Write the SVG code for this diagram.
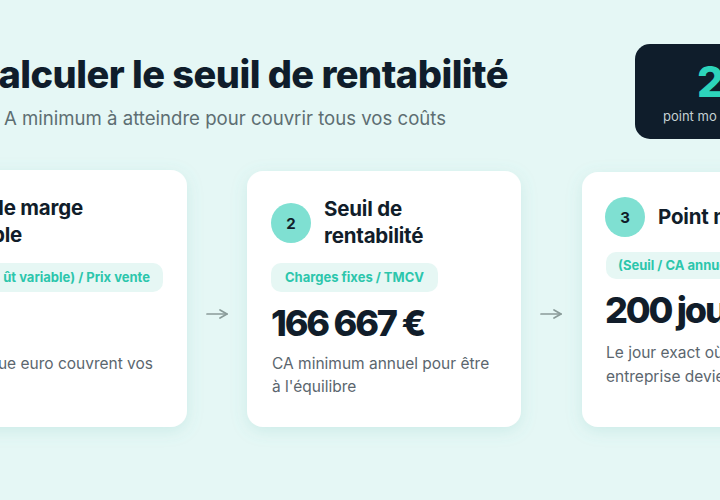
<svg xmlns="http://www.w3.org/2000/svg" width="720" height="500" viewBox="0 0 720 500">
  <defs>
    <filter id="sh" x="-20%" y="-20%" width="140%" height="140%">
      <feDropShadow dx="0" dy="4" stdDeviation="8" flood-color="#5fb8ad" flood-opacity="0.18"/>
    </filter>
    <marker id="arr" viewBox="0 0 10 10" refX="9" refY="5" markerWidth="10" markerHeight="10" markerUnits="userSpaceOnUse" orient="auto">
      <path d="M2,1 L9,5 L2,9" fill="none" stroke="#8a9b99" stroke-width="1.7" stroke-linecap="round" stroke-linejoin="round"/>
    </marker>
  </defs>
  <style>
    text { font-family: Inter, "Noto Sans", "Liberation Sans", sans-serif; }
    .title { font-size: 38px; font-weight: 800; fill: #0f1d2b; letter-spacing: -0.53px; }
    .sub { font-size: 18.6px; fill: #5d6e72; }
    .card { fill: #ffffff; filter: url(#sh); }
    .h { font-size: 20.5px; font-weight: 700; fill: #111d2a; letter-spacing: -0.2px; }
    .pill { fill: #e6f7f4; }
    .pt { font-size: 13px; font-weight: 700; fill: #2cc6ac; }
    .big { font-size: 36px; font-weight: 800; fill: #111d2a; letter-spacing: -2.2px; }
    .d { font-size: 15.5px; fill: #5b666e; }
    .num { fill: #7fe0d2; }
    .nt { font-size: 15px; font-weight: 700; fill: #111d2a; text-anchor: middle; }
    .conn { stroke: #8a9b99; stroke-width: 1.7; fill: none; stroke-linecap: round; }
  </style>
  <rect width="720" height="500" fill="#e5f7f5"/>

  <g id="header">
    <text class="title" x="508" y="88" text-anchor="end">alculer le seuil de rentabilité</text>
    <text class="sub" x="446" y="125" text-anchor="end">A minimum à atteindre pour couvrir tous vos coûts</text>
  </g>

  <g id="stat">
    <rect x="635" y="44" width="180" height="95" rx="15" fill="#0f1d2b"/>
    <text x="697" y="97" font-size="42" font-weight="800" fill="#2dd4bb">2</text>
    <text x="663" y="121" font-size="13" fill="#c5d1d3">point mo</text>
  </g>

  <g id="card1">
    <rect class="card" x="-87" y="170" width="274" height="257" rx="16"/>
    <text class="h" x="83" y="215" text-anchor="end">le marge</text>
    <text class="h" x="22" y="242" text-anchor="end">ble</text>
    <rect class="pill" x="-60" y="263" width="223" height="29" rx="10"/>
    <text class="pt" x="150" y="282" text-anchor="end">ût variable) / Prix vente</text>
    <text class="d" x="153" y="369" text-anchor="end">ue euro couvrent vos</text>
  </g>

  <g id="card2">
    <rect class="card" x="247" y="171" width="274" height="256" rx="16"/>
    <circle class="num" cx="291" cy="223" r="20"/>
    <text class="nt" x="291" y="228.5">2</text>
    <text class="h" x="324" y="216">Seuil de</text>
    <text class="h" x="324" y="243">rentabilité</text>
    <rect class="pill" x="271" y="263" width="167" height="29" rx="10"/>
    <text class="pt" x="285" y="282">Charges fixes / TMCV</text>
    <text class="big" x="271" y="336">166 667 €</text>
    <text class="d" x="272" y="369">CA minimum annuel pour être</text>
    <text class="d" x="272" y="392">à l'équilibre</text>
  </g>

  <g id="card3">
    <rect class="card" x="582" y="172" width="274" height="255" rx="16"/>
    <circle class="num" cx="625" cy="217" r="20"/>
    <text class="nt" x="625" y="222.5">3</text>
    <text class="h" x="658" y="224">Point mort</text>
    <rect class="pill" x="606" y="252" width="160" height="27" rx="10"/>
    <text class="pt" x="618" y="270">(Seuil / CA annuel) × 365</text>
    <text class="big" x="605" y="323">200 jours</text>
    <text class="d" x="606" y="358">Le jour exact où votre</text>
    <text class="d" x="606" y="382">entreprise devient rentable</text>
  </g>

  <g id="connectors">
    <line class="conn" x1="207" y1="314" x2="227" y2="314" marker-end="url(#arr)"/>
    <line class="conn" x1="541" y1="314" x2="561" y2="314" marker-end="url(#arr)"/>
  </g>
</svg>
